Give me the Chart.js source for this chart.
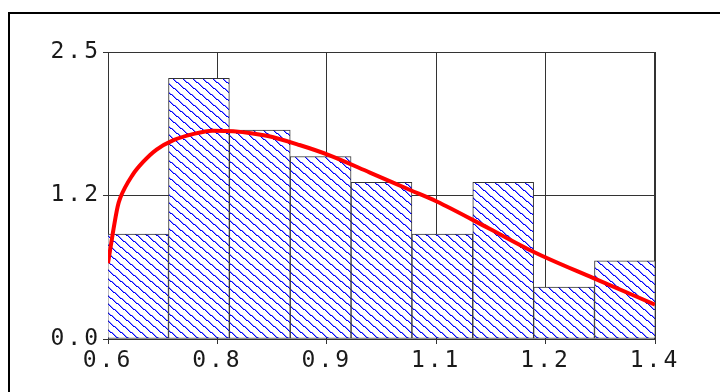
<!DOCTYPE html>
<html>
<head>
<meta charset="utf-8">
<script src="https://cdn.jsdelivr.net/npm/chart.js@4.4.1/dist/chart.umd.min.js"></script>
<style>
  html, body { margin: 0; padding: 0; background: #fff; }
  #wrap { position: relative; width: 720px; height: 392px; overflow: hidden; }
  #frame { position: absolute; left: 8px; top: 12px; width: 800px; height: 500px;
           border-left: 2px solid #000; border-top: 2px solid #000; }
  canvas { position: absolute; left: 0; top: 0; }
</style>
</head>
<body>
<div id="wrap">
  <div id="frame"></div>
  <canvas id="c" width="720" height="392"></canvas>
</div>
<script>
// ---- data ----
const binCenters = [0.644, 0.733, 0.822, 0.911, 1.000, 1.089, 1.178, 1.267, 1.356];
const binHeights = [0.915, 2.27, 1.82, 1.59, 1.364, 0.915, 1.364, 0.453, 0.682];

const curveX = [0.600, 0.607, 0.614, 0.618, 0.636, 0.651, 0.671, 0.695, 0.724, 0.753, 0.783,
                0.832, 0.880, 0.924, 0.983, 1.041, 1.080, 1.158, 1.222, 1.310, 1.400];
const curveY = [0.66, 0.92, 1.15, 1.23, 1.43, 1.54, 1.65, 1.73, 1.785, 1.815, 1.81,
                1.77, 1.69, 1.60, 1.45, 1.30, 1.20, 0.96, 0.76, 0.53, 0.30];

const xTickValues = [0.6, 0.76, 0.92, 1.08, 1.24, 1.4];
const xTickLabels = ['0.6', '0.8', '0.9', '1.1', '1.2', '1.4'];
const yTickValues = [0, 1.25, 2.5];
const yTickLabels = ['0.0', '1.2', '2.5'];

// ---- hatch pattern (pixel-drawn diagonal lines) ----
function makeHatch() {
  const w = 20, h = 17, n = 2;
  const p = document.createElement('canvas');
  p.width = w; p.height = h;
  const g = p.getContext('2d');
  g.fillStyle = '#ffffff';
  g.fillRect(0, 0, w, h);
  for (let k = 0; k < n; k++) {
    for (let x = 0; x < w; x++) {
      const y = ((Math.round(x * h / w + k * h / n)) % h + h) % h;
      g.fillStyle = '#8c8cff';
      g.fillRect((x + 1) % w, y, 1, 1);
    }
  }
  for (let k = 0; k < n; k++) {
    for (let x = 0; x < w; x++) {
      const y = ((Math.round(x * h / w + k * h / n)) % h + h) % h;
      g.fillStyle = '#0000ff';
      g.fillRect(x, y, 1, 1);
    }
  }
  return g.createPattern(p, 'repeat');
}
const ctx = document.getElementById('c').getContext('2d');
const hatch = makeHatch();

const tickFont = { family: "'DejaVu Sans Mono', monospace", size: 23 };
const LS = 3;

new Chart(ctx, {
  type: 'bar',
  data: {
    datasets: [
      {
        type: 'line',
        order: 0,
        data: curveX.map((x, i) => ({ x: x, y: curveY[i] })),
        borderColor: '#ff0000',
        borderWidth: 4,
        pointRadius: 0,
        fill: false,
        cubicInterpolationMode: 'monotone'
      },
      {
        type: 'bar',
        order: 1,
        data: binCenters.map((x, i) => ({ x: x, y: binHeights[i] })),
        backgroundColor: hatch,
        borderColor: '#333333',
        borderWidth: 1,
        borderSkipped: false,
        barPercentage: 1.0,
        categoryPercentage: 1.0
      }
    ]
  },
  options: {
    responsive: false,
    animation: false,
    events: [],
    layout: { padding: { left: 0, top: 52, right: 65, bottom: 0 } },
    plugins: { legend: { display: false }, tooltip: { enabled: false } },
    scales: {
      x: {
        type: 'linear',
        offset: false,
        min: 0.6,
        max: 1.4,
        afterBuildTicks: s => { s.ticks = xTickValues.map(v => ({ value: v })); },
        afterFit: s => { s.height = 53; },
        grid: { color: '#333333', lineWidth: 1, tickLength: 5, offset: false, drawTicks: true },
        border: { display: true, color: '#333333', width: 1 },
        ticks: {
          autoSkip: false, maxRotation: 0, padding: 3, color: '#1a1a1a',
          font: tickFont,
          callback: (v, i) => xTickLabels[i]
        }
      },
      y: {
        type: 'linear',
        min: 0,
        max: 2.5,
        afterBuildTicks: s => { s.ticks = yTickValues.map(v => ({ value: v })); },
        afterFit: s => { s.width = 108; },
        grid: { color: '#333333', lineWidth: 1, tickLength: 5 },
        border: { display: true, color: '#333333', width: 1 },
        ticks: {
          padding: 5 - LS, color: '#1a1a1a',
          font: tickFont,
          callback: (v, i) => yTickLabels[i]
        }
      }
    }
  },
  plugins: [{
    id: 'spacingAndBorder',
    beforeLayout(chart) { chart.ctx.letterSpacing = LS + 'px'; },
    beforeDraw(chart) { chart.ctx.letterSpacing = LS + 'px'; },
    beforeDatasetsDraw(chart) {
      const a = chart.chartArea, c = chart.ctx;
      c.save();
      c.strokeStyle = '#333333'; c.lineWidth = 1;
      c.beginPath();
      c.moveTo(a.left, a.top + 0.5); c.lineTo(a.right, a.top + 0.5);
      c.moveTo(a.right - 0.5, a.top); c.lineTo(a.right - 0.5, a.bottom);
      c.stroke();
      c.restore();
    }
  }]
});
</script>
</body>
</html>
